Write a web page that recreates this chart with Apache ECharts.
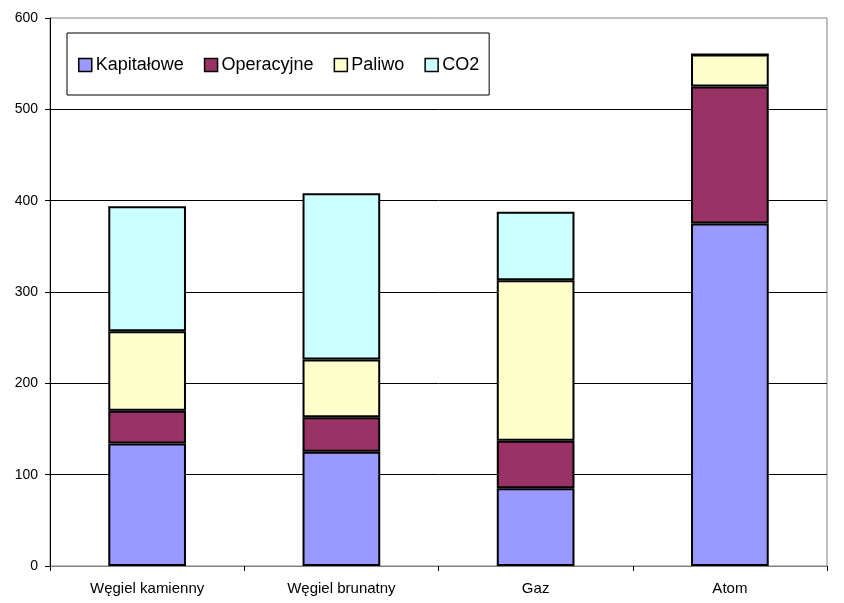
<!DOCTYPE html>
<html>
<head>
<meta charset="utf-8">
<script src="https://cdn.jsdelivr.net/npm/echarts@6/dist/echarts.min.js"></script>
<style>
html,body{margin:0;padding:0;background:#fff;}
#c{width:844px;height:603px;}
</style>
</head>
<body>
<div id="c"></div>
<script>
const categories = ['Węgiel kamienny', 'Węgiel brunatny', 'Gaz', 'Atom'];
const kapitalowe = [134, 125, 85, 375];
const operacyjne = [36, 38, 52, 150];
const paliwo = [87, 63, 176, 35];
const co2 = [137, 182, 75, 0];
const seriesNames = ['Kapitałowe', 'Operacyjne', 'Paliwo', 'CO2'];
const seriesColors = ['#9999FF', '#993366', '#FFFFCC', '#CCFFFF'];
const yTicks = [0, 100, 200, 300, 400, 500, 600];

const chart = echarts.init(document.getElementById('c'));
const values = [kapitalowe, operacyjne, paliwo, co2];
const font = 'Arial, "Liberation Sans", sans-serif';

chart.setOption({
  animation: false,
  backgroundColor: '#fff',
  grid: {
    left: 50, top: 18, right: 17, bottom: 37,
    show: true, borderColor: '#808080', borderWidth: 1, backgroundColor: 'transparent'
  },
  legend: {
    left: 67, top: 33,
    padding: [23, 10, 21, 11],
    borderColor: '#000', borderWidth: 1,
    backgroundColor: '#fff',
    itemWidth: 13, itemHeight: 13, itemGap: 20,
    icon: 'rect',
    itemStyle: { borderColor: '#000', borderWidth: 1.5 },
    textStyle: { fontFamily: font, fontSize: 18, color: '#000', padding: [0, 0, 0, -1] },
    data: seriesNames
  },
  xAxis: {
    type: 'category',
    data: categories,
    axisLine: { lineStyle: { color: '#808080', width: 1 } },
    axisTick: { show: true, alignWithLabel: false, length: 5, lineStyle: { color: '#000' } },
    axisLabel: { fontFamily: font, fontSize: 15, color: '#000', margin: 15 }
  },
  yAxis: {
    type: 'value',
    min: 0, max: 600, interval: 100,
    axisLine: { show: true, lineStyle: { color: '#000', width: 1 } },
    axisTick: { show: true, length: 5, lineStyle: { color: '#000' } },
    axisLabel: {
      fontFamily: font, fontSize: 14, color: '#000', margin: 12,
      formatter: v => yTicks.includes(v) ? String(v) : ''
    },
    splitLine: { show: true, showMaxLine: false, lineStyle: { color: '#000', width: 1 } }
  },
  series: seriesNames.map((n, i) => ({
    name: n,
    type: 'bar',
    stack: 'total',
    barWidth: '40%',
    data: values[i],
    itemStyle: { color: seriesColors[i], borderColor: '#000', borderWidth: 2 }
  }))
});
</script>
</body>
</html>
